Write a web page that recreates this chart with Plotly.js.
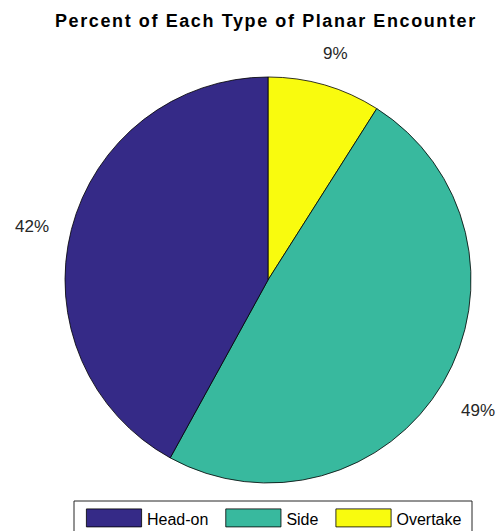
<!DOCTYPE html>
<html>
<head>
<meta charset="utf-8">
<script src="https://cdn.plot.ly/plotly-3.0.1.min.js"></script>
<style>
html,body{margin:0;padding:0;background:#fff;}
#chart{width:497px;height:531px;}
.gtitle{letter-spacing:1.6px;}
.legend .legendpoints path{transform:translate(40px,-1px) scale(4.6,1.5);vector-effect:non-scaling-stroke;}
</style>
</head>
<body>
<div id="chart"></div>
<script>
const categories = ["Head-on", "Side", "Overtake"];
const percents = [42, 49, 9];
const colors = ["#352a87", "#38b99e", "#f9fb0e"];

const W = 497, H = 531;
const dom = { x: [0.1308, 0.9477], y: [0.0904, 0.855] };
const cxPx = (dom.x[0] + dom.x[1]) / 2 * W;
const cyPx = (1 - (dom.y[0] + dom.y[1]) / 2) * H;
const Rpx = (dom.x[1] - dom.x[0]) * W / 2;

// slices drawn clockwise from 12 o'clock in reverse order = counterclockwise in original order
const revLabels = categories.slice().reverse();
const revValues = percents.slice().reverse();
const revColors = colors.slice().reverse();

const trace = {
  type: "pie",
  labels: revLabels,
  values: revValues,
  sort: false,
  direction: "clockwise",
  rotation: 0,
  marker: { colors: revColors, line: { color: "#000000", width: 0.8 } },
  textinfo: "none",
  domain: dom,
  hoverinfo: "label+percent"
};

// percent labels placed outside, MATLAB style, from the data (counterclockwise from top)
const total = percents.reduce((a, b) => a + b, 0);
let cum = 0;
const annotations = percents.map((v, i) => {
  const mid = (cum + v / 2) / total * 2 * Math.PI;
  cum += v;
  const k = 1.2;
  const px = cxPx - Math.sin(mid) * Rpx * k;
  const py = cyPx - Math.cos(mid) * Rpx * k;
  return {
    xref: "paper", yref: "paper",
    x: px / W, y: 1 - py / H,
    xanchor: "center", yanchor: "middle",
    yshift: -7,
    showarrow: false,
    text: Math.round(v / total * 100) + "%",
    font: { family: "Liberation Sans, Arial, sans-serif", size: 17, color: "#262626" }
  };
});

const layout = {
  width: W,
  height: H,
  margin: { l: 0, r: 0, t: 0, b: 0, autoexpand: false },
  paper_bgcolor: "#ffffff",
  title: {
    text: "<b>Percent of Each Type of Planar Encounter</b>",
    font: { family: "Liberation Sans, Arial, sans-serif", size: 18, color: "#000000" },
    x: 0.535, xanchor: "center", y: 1 - 21 / H, yanchor: "middle"
  },
  annotations: annotations,
  shapes: [{
    type: "rect", xref: "paper", yref: "paper",
    x0: 74 / W, x1: 472 / W, y0: -0.05, y1: 1 - 501 / H,
    line: { color: "#262626", width: 1 }, fillcolor: "rgba(0,0,0,0)", layer: "above"
  }],
  showlegend: true,
  legend: {
    orientation: "h",
    x: 74 / W, xanchor: "left",
    y: 1 - 502 / H, yanchor: "top",
    borderwidth: 0,
    bgcolor: "rgba(0,0,0,0)",
    itemwidth: 63,
    font: { family: "Liberation Sans, Arial, sans-serif", size: 16, color: "#000000" },
    traceorder: "reversed"
  }
};

Plotly.newPlot("chart", [trace], layout, { displayModeBar: false, staticPlot: true });
</script>
</body>
</html>
